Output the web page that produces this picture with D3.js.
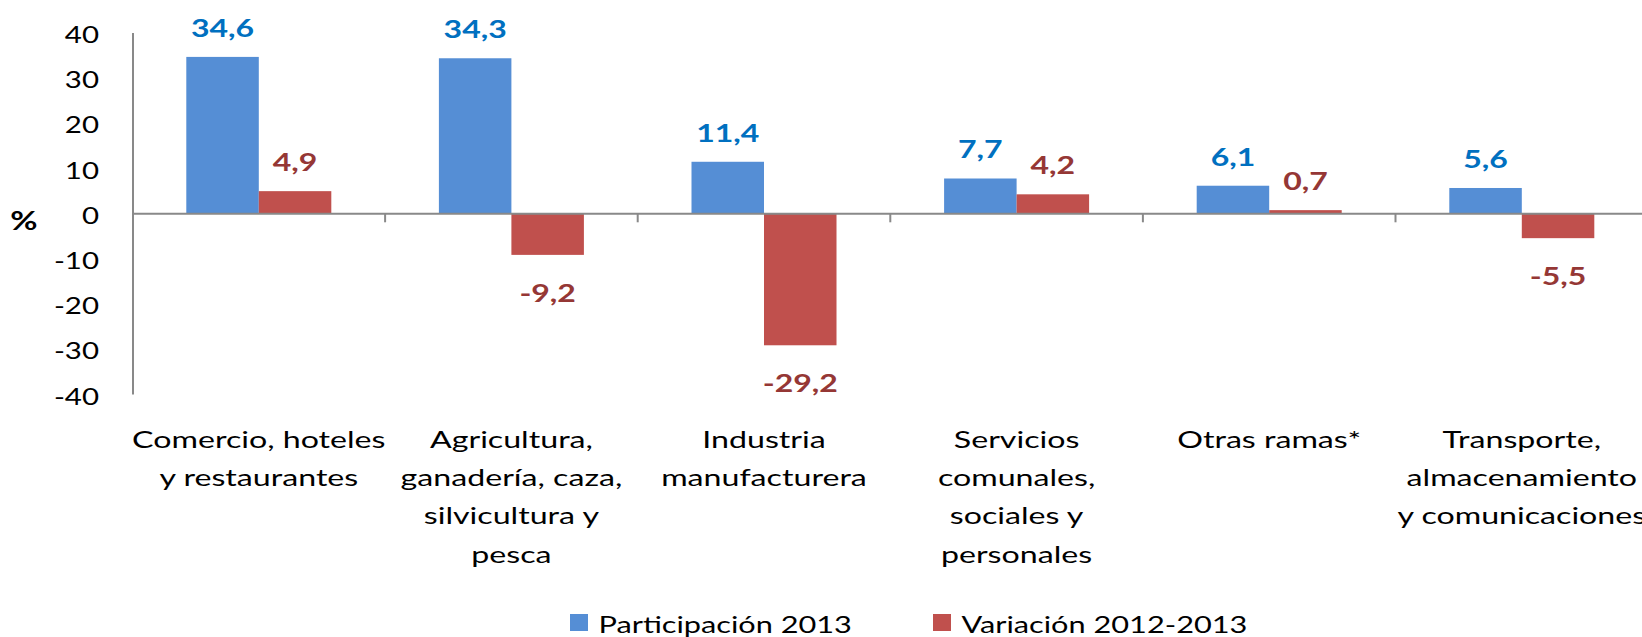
<!DOCTYPE html>
<html>
<head>
<meta charset="utf-8">
<script src="https://cdn.jsdelivr.net/npm/d3@7"></script>
<style>
  body { margin: 0; background: #fff; }
  svg { display: block; font-family: Lato, "Open Sans", sans-serif; }
</style>
</head>
<body>
<div id="chart"></div>
<script>
// values
var categories = [
  'Comercio, hoteles y restaurantes',
  'Agricultura, ganadería, caza, silvicultura y pesca',
  'Industria manufacturera',
  'Servicios comunales, sociales y personales',
  'Otras ramas*',
  'Transporte, almacenamiento y comunicaciones'
]
var categoryLines = [
  ['Comercio, hoteles', 'y restaurantes'],
  ['Agricultura,', 'ganadería, caza,', 'silvicultura y', 'pesca'],
  ['Industria', 'manufacturera'],
  ['Servicios', 'comunales,', 'sociales y', 'personales'],
  ['Otras ramas*'],
  ['Transporte,', 'almacenamiento', 'y comunicaciones']
]
var series = ['Participación 2013', 'Variación 2012-2013']
var participacion = [34.6, 34.3, 11.4, 7.7, 6.1, 5.6]
var variacion = [4.9, -9.2, -29.2, 4.2, 0.7, -5.5]
var yTicks = [40, 30, 20, 10, 0, -10, -20, -30, -40]

var W = 1642, H = 637
var barColors = ['#558ED5', '#C0504D']
var labelColors = ['#0070C0', '#953735']
var axisColor = '#898989'
var sx = 1.28   // the source chart is stretched sideways
var sxCat = 1.34

var svg = d3.select('#chart').append('svg')
  .attr('width', W).attr('height', H)

var x0 = d3.scaleBand().domain(categories).range([132.5, 132.5 + 6 * 252.6]).padding(0)
var x1 = d3.scaleBand().domain(series).range([0, x0.bandwidth()]).paddingInner(0).paddingOuter(0.742)
var y = d3.scaleLinear().domain([-40, 40]).range([394.1, 32.5])

var rows = categories.map(function (c, i) {
  return { cat: c, lines: categoryLines[i], vals: [participacion[i], variacion[i]] }
})

// bars
var groups = svg.append('g').selectAll('g').data(rows).enter().append('g')
  .attr('transform', function (d) { return 'translate(' + x0(d.cat) + ',0)' })

groups.selectAll('rect').data(function (d) {
  return d.vals.map(function (v, k) { return { s: series[k], v: v, k: k } })
}).enter().append('rect')
  .attr('x', function (d) { return x1(d.s) })
  .attr('width', x1.bandwidth())
  .attr('y', function (d) { return y(Math.max(0, d.v)) })
  .attr('height', function (d) { return Math.abs(y(d.v) - y(0)) })
  .attr('fill', function (d) { return barColors[d.k] })

// value labels
groups.selectAll('text.val').data(function (d) {
  return d.vals.map(function (v, k) { return { s: series[k], v: v, k: k } })
}).enter().append('text')
  .attr('class', 'val')
  .attr('transform', function (d) {
    var ty = d.v >= 0 ? y(d.v) - 20 : y(d.v) + 47
    return 'translate(' + (x1(d.s) + x1.bandwidth() / 2) + ',' + ty + ') scale(' + sx + ',1)'
  })
  .attr('text-anchor', 'middle')
  .attr('font-size', 25)
  .attr('font-weight', 'bold')
  .attr('fill', function (d) { return labelColors[d.k] })
  .text(function (d) { return String(d.v).replace('.', ',') })

// y axis
var yAxis = svg.append('g')
  .attr('transform', 'translate(132.5,0)')
  .call(d3.axisLeft(y).tickValues(yTicks).tickSize(0).tickFormat(function (d) { return String(d) }))
yAxis.select('.domain').attr('stroke', axisColor).attr('stroke-width', 2)
yAxis.selectAll('.tick text')
  .attr('x', null).attr('dy', null)
  .attr('transform', 'translate(-33.5,10) scale(' + sx + ',1)')
  .attr('font-size', 23)
  .attr('font-family', 'Lato, sans-serif')
  .attr('fill', '#000')

// zero line with ticks between categories
var xAxis = svg.append('g')
  .attr('transform', 'translate(0,' + y(0) + ')')
  .call(d3.axisBottom(x0).tickSize(0).tickFormat(''))
xAxis.select('.domain').attr('stroke', axisColor).attr('stroke-width', 2)
xAxis.selectAll('.tick').remove()
xAxis.selectAll('line.sep').data(categories.slice(1)).enter().append('line')
  .attr('class', 'sep')
  .attr('x1', function (c) { return x0(c) }).attr('x2', function (c) { return x0(c) })
  .attr('y1', 0).attr('y2', 9)
  .attr('stroke', axisColor).attr('stroke-width', 2)

// category labels
groups.each(function (d) {
  var g = d3.select(this)
  d.lines.forEach(function (line, j) {
    g.append('text')
      .attr('transform', 'translate(' + x0.bandwidth() / 2 + ',' + (447.5 + j * 38.4) + ') scale(' + sxCat + ',1)')
      .attr('text-anchor', 'middle')
      .attr('font-size', 24)
      .attr('fill', '#000')
      .text(line)
  })
})

// % label
svg.append('text')
  .attr('transform', 'translate(24,230) scale(' + sx + ',1)')
  .attr('text-anchor', 'middle')
  .attr('font-size', 26)
  .attr('font-weight', 'bold')
  .text('%')

// legend
var legendX = [570, 933]
var legend = svg.append('g').selectAll('g').data(series).enter().append('g')
  .attr('transform', function (d, i) { return 'translate(' + legendX[i] + ',614)' })
legend.append('rect')
  .attr('width', 18).attr('height', 17)
  .attr('fill', function (d, i) { return barColors[i] })
legend.append('text')
  .attr('transform', 'translate(28.5,19) scale(' + sx + ',1)')
  .attr('font-size', 24)
  .attr('fill', '#000')
  .text(function (d) { return d })
</script>
</body>
</html>
